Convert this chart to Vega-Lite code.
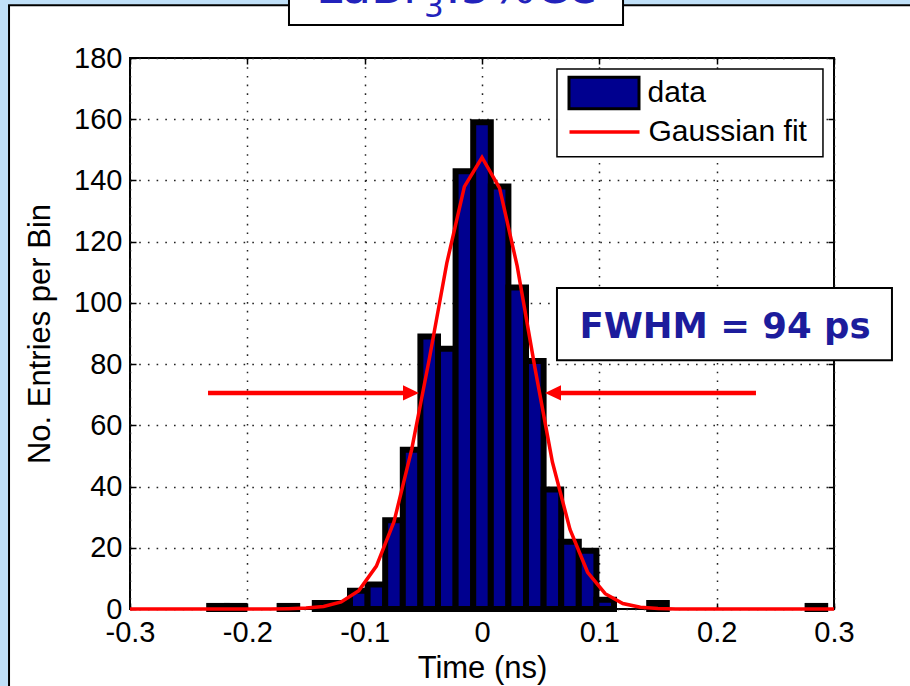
{
  "$schema": "https://vega.github.io/schema/vega-lite/v6.json",
  "autosize": {"type": "none"},
  "width": 704,
  "height": 551,
  "padding": {"left": 130, "top": 58, "right": 76, "bottom": 77},
  "background": "white",
  "config": {"view": {"stroke": "black", "strokeWidth": 2}},
  "resolve": {"axis": {"x": "independent", "y": "independent"}},
  "layer": [
    {
      "data": {"values": [
        {"x0": -0.6, "x1": -0.4035, "y0": -60, "y1": 230},
        {"x0": -0.6, "x1": 0.6, "y0": 197.4, "y1": 230}
      ]},
      "mark": {"type": "rect", "fill": "#c0e0f8"},
      "encoding": {
        "x": {"field": "x0", "type": "quantitative", "scale": {"domain": [-0.3, 0.3], "nice": false, "zero": false}, "axis": null},
        "x2": {"field": "x1"},
        "y": {"field": "y0", "type": "quantitative", "scale": {"domain": [0, 180], "nice": false, "zero": false}, "axis": null},
        "y2": {"field": "y1"}
      }
    },
    {
      "data": {"values": [{"x0": -0.4031, "x1": 0.6, "y0": -60, "y1": 197.2}]},
      "mark": {"type": "rect", "fill": "transparent", "stroke": "black", "strokeWidth": 2},
      "encoding": {
        "x": {"field": "x0", "type": "quantitative", "scale": {"domain": [-0.3, 0.3], "nice": false, "zero": false}, "axis": null},
        "x2": {"field": "x1"},
        "y": {"field": "y0", "type": "quantitative", "scale": {"domain": [0, 180], "nice": false, "zero": false}, "axis": null},
        "y2": {"field": "y1"}
      }
    },
    {
      "data": {"values": [
        {"t0": -0.2325, "t1": -0.2175, "n": 1, "s": "data"},
        {"t0": -0.2175, "t1": -0.2025, "n": 1, "s": "data"},
        {"t0": -0.1725, "t1": -0.1575, "n": 1, "s": "data"},
        {"t0": -0.1425, "t1": -0.1275, "n": 2, "s": "data"},
        {"t0": -0.1275, "t1": -0.1125, "n": 2, "s": "data"},
        {"t0": -0.1125, "t1": -0.0975, "n": 6, "s": "data"},
        {"t0": -0.0975, "t1": -0.0825, "n": 8, "s": "data"},
        {"t0": -0.0825, "t1": -0.0675, "n": 29, "s": "data"},
        {"t0": -0.0675, "t1": -0.0525, "n": 52, "s": "data"},
        {"t0": -0.0525, "t1": -0.0375, "n": 89, "s": "data"},
        {"t0": -0.0375, "t1": -0.0225, "n": 85, "s": "data"},
        {"t0": -0.0225, "t1": -0.0075, "n": 143, "s": "data"},
        {"t0": -0.0075, "t1": 0.0075, "n": 159, "s": "data"},
        {"t0": 0.0075, "t1": 0.0225, "n": 138, "s": "data"},
        {"t0": 0.0225, "t1": 0.0375, "n": 105, "s": "data"},
        {"t0": 0.0375, "t1": 0.0525, "n": 81, "s": "data"},
        {"t0": 0.0525, "t1": 0.0675, "n": 39, "s": "data"},
        {"t0": 0.0675, "t1": 0.0825, "n": 22, "s": "data"},
        {"t0": 0.0825, "t1": 0.0975, "n": 19, "s": "data"},
        {"t0": 0.0975, "t1": 0.1125, "n": 3, "s": "data"},
        {"t0": 0.1425, "t1": 0.1575, "n": 2, "s": "data"},
        {"t0": 0.2775, "t1": 0.2925, "n": 1, "s": "data"}
      ]},
      "mark": {"type": "rect", "stroke": "black", "strokeWidth": 6},
      "encoding": {
        "x": {"field": "t0", "type": "quantitative", "scale": {"domain": [-0.3, 0.3], "nice": false, "zero": false},
          "axis": {"orient": "bottom", "values": [-0.3, -0.2, -0.1, 0, 0.1, 0.2, 0.3],
            "labelExpr": "datum.value == 0 ? '0' : toString(round(datum.value*10)/10)",
            "ticks": false, "domain": false, "grid": true, "gridColor": "#222222", "gridDash": [1.6, 7.1], "gridWidth": 1.5,
            "labelFont": "Liberation Sans", "labelFontSize": 29, "labelColor": "black", "labelPadding": 9, "labelFlush": false, "labelOverlap": false,
            "title": "Time (ns)", "titleFont": "Liberation Sans", "titleFontSize": 31, "titleFontWeight": "normal", "titleColor": "black", "titlePadding": 6}},
        "x2": {"field": "t1"},
        "y": {"field": "n", "type": "quantitative", "scale": {"domain": [0, 180], "nice": false, "zero": false},
          "axis": {"orient": "left", "values": [0, 20, 40, 60, 80, 100, 120, 140, 160, 180],
            "ticks": false, "domain": false, "grid": true, "gridColor": "#222222", "gridDash": [1.6, 7.1], "gridWidth": 1.5,
            "labelFont": "Liberation Sans", "labelFontSize": 29, "labelColor": "black", "labelPadding": 8, "labelFlush": false, "labelOverlap": false,
            "title": "No. Entries per Bin", "titleFont": "Liberation Sans", "titleFontSize": 31, "titleFontWeight": "normal", "titleColor": "black", "titlePadding": 17}},
        "y2": {"datum": 0},
        "fill": {"field": "s", "type": "nominal",
          "scale": {"domain": ["data"], "range": ["#00008f"]},
          "legend": {"title": null, "orient": "none", "legendX": 434.5, "legendY": 17, "padding": 0,
            "labelFont": "Liberation Sans", "labelFontSize": 30, "labelColor": "black", "labelLimit": 400, "labelOffset": 7,
            "symbolType": "M-1,-0.45L1,-0.45L1,0.45L-1,0.45Z", "symbolOffset": 3, "symbolSize": 4900,
            "symbolStrokeColor": "black", "symbolStrokeWidth": 3, "symbolFillColor": "#00008f", "symbolOpacity": 1,
            "clipHeight": 36}}
      }
    },
    {
      "data": {"values": [
        {"t": -0.3, "v": 0, "s": "Gaussian fit"},
        {"t": -0.285, "v": 0, "s": "Gaussian fit"},
        {"t": -0.27, "v": 0, "s": "Gaussian fit"},
        {"t": -0.255, "v": 0, "s": "Gaussian fit"},
        {"t": -0.24, "v": 0, "s": "Gaussian fit"},
        {"t": -0.225, "v": 0, "s": "Gaussian fit"},
        {"t": -0.21, "v": 0, "s": "Gaussian fit"},
        {"t": -0.195, "v": 0, "s": "Gaussian fit"},
        {"t": -0.18, "v": 0, "s": "Gaussian fit"},
        {"t": -0.165, "v": 0.1, "s": "Gaussian fit"},
        {"t": -0.15, "v": 0.3, "s": "Gaussian fit"},
        {"t": -0.135, "v": 0.8, "s": "Gaussian fit"},
        {"t": -0.12, "v": 2.3, "s": "Gaussian fit"},
        {"t": -0.105, "v": 6, "s": "Gaussian fit"},
        {"t": -0.09, "v": 14, "s": "Gaussian fit"},
        {"t": -0.075, "v": 28.5, "s": "Gaussian fit"},
        {"t": -0.06, "v": 52, "s": "Gaussian fit"},
        {"t": -0.045, "v": 81.5, "s": "Gaussian fit"},
        {"t": -0.03, "v": 113, "s": "Gaussian fit"},
        {"t": -0.015, "v": 138, "s": "Gaussian fit"},
        {"t": 0, "v": 147.5, "s": "Gaussian fit"},
        {"t": 0.015, "v": 137.5, "s": "Gaussian fit"},
        {"t": 0.03, "v": 112, "s": "Gaussian fit"},
        {"t": 0.045, "v": 79, "s": "Gaussian fit"},
        {"t": 0.06, "v": 48, "s": "Gaussian fit"},
        {"t": 0.075, "v": 26, "s": "Gaussian fit"},
        {"t": 0.09, "v": 12, "s": "Gaussian fit"},
        {"t": 0.105, "v": 5, "s": "Gaussian fit"},
        {"t": 0.12, "v": 1.8, "s": "Gaussian fit"},
        {"t": 0.135, "v": 0.6, "s": "Gaussian fit"},
        {"t": 0.15, "v": 0.2, "s": "Gaussian fit"},
        {"t": 0.165, "v": 0, "s": "Gaussian fit"},
        {"t": 0.18, "v": 0, "s": "Gaussian fit"},
        {"t": 0.195, "v": 0, "s": "Gaussian fit"},
        {"t": 0.21, "v": 0, "s": "Gaussian fit"},
        {"t": 0.225, "v": 0, "s": "Gaussian fit"},
        {"t": 0.24, "v": 0, "s": "Gaussian fit"},
        {"t": 0.255, "v": 0, "s": "Gaussian fit"},
        {"t": 0.27, "v": 0, "s": "Gaussian fit"},
        {"t": 0.285, "v": 0, "s": "Gaussian fit"},
        {"t": 0.3, "v": 0, "s": "Gaussian fit"}
      ]},
      "mark": {"type": "line", "strokeWidth": 3.5},
      "encoding": {
        "x": {"field": "t", "type": "quantitative", "scale": {"domain": [-0.3, 0.3], "nice": false, "zero": false},
          "axis": {"orient": "top", "values": [-0.3, -0.2, -0.1, 0, 0.1, 0.2, 0.3], "labels": false, "ticks": true, "tickSize": -6, "tickColor": "black", "tickWidth": 1.5, "domain": false, "grid": false, "title": null}},
        "y": {"field": "v", "type": "quantitative", "scale": {"domain": [0, 180], "nice": false, "zero": false},
          "axis": {"orient": "right", "values": [0, 20, 40, 60, 80, 100, 120, 140, 160, 180], "labels": false, "ticks": true, "tickSize": -6, "tickColor": "black", "tickWidth": 1.5, "domain": false, "grid": false, "title": null}},
        "stroke": {"field": "s", "type": "nominal",
          "scale": {"domain": ["Gaussian fit"], "range": ["#ff0000"]},
          "legend": {"title": null, "orient": "none", "legendX": 434.5, "legendY": 56, "padding": 0,
            "labelFont": "Liberation Sans", "labelFontSize": 30, "labelColor": "black", "labelLimit": 400, "labelOffset": 7,
            "symbolType": "stroke", "symbolOffset": 3, "symbolSize": 4900, "symbolStrokeWidth": 3.5, "symbolStrokeColor": "#ff0000", "symbolOpacity": 1,
            "clipHeight": 36}}
      }
    },
    {
      "data": {"values": [{"x0": 0.0639, "x1": 0.2906, "y0": 147.7, "y1": 176.4}]},
      "mark": {"type": "rect", "fill": "white", "stroke": "black", "strokeWidth": 1.5},
      "encoding": {
        "x": {"field": "x0", "type": "quantitative", "scale": {"domain": [-0.3, 0.3], "nice": false, "zero": false}, "axis": null},
        "x2": {"field": "x1"},
        "y": {"field": "y0", "type": "quantitative", "scale": {"domain": [0, 180], "nice": false, "zero": false}, "axis": null},
        "y2": {"field": "y1"}
      }
    },
    {
      "data": {"values": [
        {"a": -0.2335, "b": -0.062, "y": 70.6},
        {"a": 0.2335, "b": 0.062, "y": 70.6}
      ]},
      "mark": {"type": "rule", "color": "#ff0000", "strokeWidth": 4.5},
      "encoding": {
        "x": {"field": "a", "type": "quantitative", "scale": {"domain": [-0.3, 0.3], "nice": false, "zero": false},
          "axis": {"orient": "bottom", "values": [-0.3, -0.2, -0.1, 0, 0.1, 0.2, 0.3], "labels": false, "ticks": true, "tickSize": -6, "tickColor": "black", "tickWidth": 1.5, "domain": false, "grid": false, "title": null}},
        "x2": {"field": "b"},
        "y": {"field": "y", "type": "quantitative", "scale": {"domain": [0, 180], "nice": false, "zero": false},
          "axis": {"orient": "left", "values": [0, 20, 40, 60, 80, 100, 120, 140, 160, 180], "labels": false, "ticks": true, "tickSize": -6, "tickColor": "black", "tickWidth": 1.5, "domain": false, "grid": false, "title": null}}
      }
    },
    {
      "data": {"values": [
        {"x": -0.0537, "y": 70.6, "dir": "right"},
        {"x": 0.0537, "y": 70.6, "dir": "left"}
      ]},
      "mark": {"type": "point", "filled": true, "color": "#ff0000", "opacity": 1, "size": 1024, "strokeWidth": 0},
      "encoding": {
        "x": {"field": "x", "type": "quantitative", "scale": {"domain": [-0.3, 0.3], "nice": false, "zero": false}, "axis": null},
        "y": {"field": "y", "type": "quantitative", "scale": {"domain": [0, 180], "nice": false, "zero": false}, "axis": null},
        "shape": {"field": "dir", "type": "nominal", "legend": null,
          "scale": {"domain": ["right", "left"], "range": ["M0,0L-1,-0.47L-1,0.47Z", "M0,0L1,-0.47L1,0.47Z"]}}
      }
    },
    {
      "data": {"values": [{"x0": 0.0639, "x1": 0.3494, "y0": 81.3, "y1": 104.9}]},
      "mark": {"type": "rect", "fill": "white", "stroke": "black", "strokeWidth": 2},
      "encoding": {
        "x": {"field": "x0", "type": "quantitative", "scale": {"domain": [-0.3, 0.3], "nice": false, "zero": false}, "axis": null},
        "x2": {"field": "x1"},
        "y": {"field": "y0", "type": "quantitative", "scale": {"domain": [0, 180], "nice": false, "zero": false}, "axis": null},
        "y2": {"field": "y1"}
      }
    },
    {
      "data": {"values": [{"x": 0.2071, "y": 92, "label": "FWHM = 94 ps"}]},
      "mark": {"type": "text", "font": "DejaVu Sans", "fontWeight": "bold", "fontSize": 35.5, "fill": "#1c1c9c", "align": "center", "baseline": "middle"},
      "encoding": {
        "x": {"field": "x", "type": "quantitative", "scale": {"domain": [-0.3, 0.3], "nice": false, "zero": false}, "axis": null},
        "y": {"field": "y", "type": "quantitative", "scale": {"domain": [0, 180], "nice": false, "zero": false}, "axis": null},
        "text": {"field": "label"}
      }
    },
    {
      "data": {"values": [{"x0": -0.1645, "x1": 0.1202, "y0": 190.8, "y1": 215}]},
      "mark": {"type": "rect", "fill": "white", "stroke": "black", "strokeWidth": 2},
      "encoding": {
        "x": {"field": "x0", "type": "quantitative", "scale": {"domain": [-0.3, 0.3], "nice": false, "zero": false}, "axis": null},
        "x2": {"field": "x1"},
        "y": {"field": "y0", "type": "quantitative", "scale": {"domain": [0, 180], "nice": false, "zero": false}, "axis": null},
        "y2": {"field": "y1"}
      }
    },
    {
      "data": {"values": [
        {"x": -0.1415, "y": 198, "label": "LaBr"},
        {"x": -0.0315, "y": 198, "label": ":5%Ce"}
      ]},
      "mark": {"type": "text", "font": "DejaVu Sans", "fontSize": 47, "fill": "#2222bb", "align": "left", "baseline": "alphabetic"},
      "encoding": {
        "x": {"field": "x", "type": "quantitative", "scale": {"domain": [-0.3, 0.3], "nice": false, "zero": false}, "axis": null},
        "y": {"field": "y", "type": "quantitative", "scale": {"domain": [0, 180], "nice": false, "zero": false}, "axis": null},
        "text": {"field": "label"}
      }
    },
    {
      "data": {"values": [{"x": -0.0494, "y": 193.4, "label": "3"}]},
      "mark": {"type": "text", "font": "DejaVu Sans", "fontSize": 31, "fill": "#2222bb", "align": "left", "baseline": "alphabetic"},
      "encoding": {
        "x": {"field": "x", "type": "quantitative", "scale": {"domain": [-0.3, 0.3], "nice": false, "zero": false}, "axis": null},
        "y": {"field": "y", "type": "quantitative", "scale": {"domain": [0, 180], "nice": false, "zero": false}, "axis": null},
        "text": {"field": "label"}
      }
    }
  ]
}
